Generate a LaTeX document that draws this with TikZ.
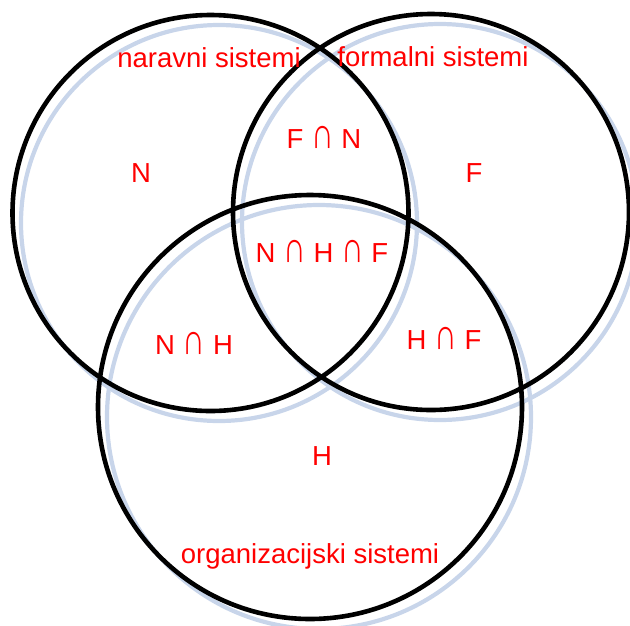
\documentclass[tikz,border=0pt]{standalone}
\usepackage{fontspec}
\usepackage{graphicx}
\setmainfont{Liberation Sans}
\newcommand{\isect}{\scalebox{1.15}[1.6]{∩}}
\begin{document}
\begin{tikzpicture}[x=1pt,y=-1pt,
  vennc/.style={circle, draw=black, line width=4.6pt, inner sep=0pt, minimum size=#1},
  shade/.style={circle, draw=shadowblue, line width=4.2pt, inner sep=0pt, minimum size=#1},
  lbl/.style={text=red, font=\fontsize{27.5}{30}\selectfont, inner sep=0pt}]
\definecolor{shadowblue}{RGB}{200,213,234}
\useasboundingbox (0,0) rectangle (630,625);
% shadows
\node[shade=396] (Ns) at (219,223) {};
\node[shade=396] (Fs) at (440,222) {};
\node[shade=424] (Hs) at (319,417) {};
% circles
\node[vennc=396] (N) at (210.5,213) {};
\node[vennc=396] (F) at (431,212) {};
\node[vennc=424] (H) at (310,407) {};
% labels
\node[lbl] (tn) at (209,58) {naravni sistemi};
\node[lbl] (tf) at (433,57) {formalni sistemi};
\node[lbl] (to) at (310,556) {organizacijski sistemi};
\node[lbl] (ln) at (141,173) {N};
\node[lbl] (lf) at (474,173) {F};
\node[lbl] (lfn) at (324,137) {F \isect{} N};
\node[lbl] (lnhf) at (322,251) {N \isect{} H \isect{} F};
\node[lbl] (lnh) at (194,343) {N \isect{} H};
\node[lbl] (lhf) at (444,338) {H \isect{} F};
\node[lbl] (lh) at (322,456) {H};
\end{tikzpicture}
\end{document}
